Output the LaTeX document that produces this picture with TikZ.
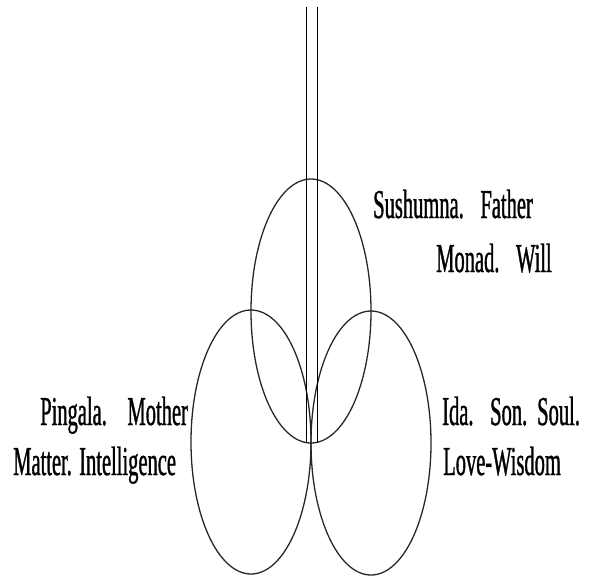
\documentclass[tikz,border=0pt]{standalone}
\usepackage{fontspec}
\newfontfamily\narrowserif[FakeStretch=0.5,FakeBold=0.8]{Liberation Serif}
\tikzset{
  ring/.style={draw=black!85,line width=1.1pt},
  stem/.style={draw=black,line width=.6pt},
  lbl/.style={font=\narrowserif\fontsize{35}{40}\selectfont,inner sep=0pt,anchor=base west},
}
\begin{document}
\begin{tikzpicture}[x=0.03cm,y=-0.03cm]
  \useasboundingbox (0,0) rectangle (590,578);
  % the three circles
  \coordinate (sush) at (311,311);
  \coordinate (ping) at (251,442);
  \coordinate (ida)  at (371,443);
  \draw[ring] (sush) ellipse [x radius=60,y radius=132];
  \draw[ring] (ping) ellipse [x radius=60,y radius=132];
  \draw[ring] (ida)  ellipse [x radius=60,y radius=132];
  % the double stem
  \coordinate (sl) at (306.5,7);
  \coordinate (sr) at (317.5,7);
  \coordinate (el) at (306.5,442.5);
  \coordinate (er) at (317.5,442.5);
  \draw[stem] (sl) -- (el);
  \draw[stem] (sr) -- (er);
  % labels
  \node[lbl]  (s1) at (373,218) {Sushumna.\hspace{0.5cm}Father};
  \node[lbl]  (s2) at (436,272) {Monad.\hspace{0.5cm}Will};
  \node[lbl]  (p1) at (40,425)  {Pingala.\hspace{0.62cm}Mother};
  \node[lbl]  (p2) at (13,475)  {Matter.\hspace{0.22cm}Intelligence};
  \node[lbl]  (i1) at (442,425) {Ida.\hspace{0.5cm}Son.\hspace{0.3cm}Soul.};
  \node[lbl]  (i2) at (443,475) {Love-Wisdom};
\end{tikzpicture}
\end{document}
